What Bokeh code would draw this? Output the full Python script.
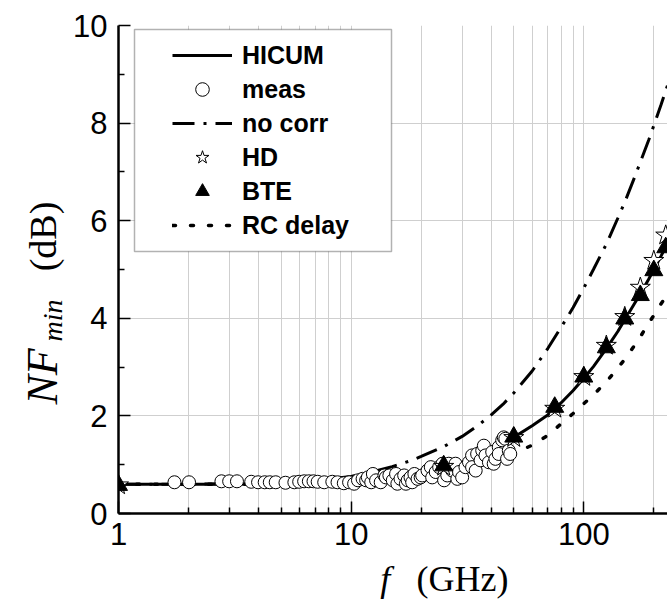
from math import pi
from bokeh.plotting import figure
from bokeh.layouts import row, column
from bokeh.models import (Range1d, FixedTicker, BasicTickFormatter, Legend,
                          LegendItem, BoxAnnotation)
from bokeh.core.properties import value
from bokeh.embed import file_html
from bokeh.resources import INLINE

# ---- data -------------------------------------------------------------
# frequency grid for the model curves (GHz)
model_f = [1, 2, 3, 5, 7, 10, 12, 15, 18, 20, 25, 30, 35, 40, 45, 50, 60, 70,
           80, 90, 100, 110, 125, 140, 150, 165, 175, 190, 200, 215, 230]
# HICUM compact model NFmin (dB)
hicum_nf = [0.60, 0.60, 0.60, 0.61, 0.62, 0.64, 0.67, 0.71, 0.77, 0.81, 0.93,
            1.05, 1.17, 1.30, 1.43, 1.56, 1.80, 2.02, 2.27, 2.52, 2.77, 3.01,
            3.38, 3.73, 3.97, 4.30, 4.50, 4.80, 5.00, 5.28, 5.55]
# without noise correlation
nocorr_nf = [0.60, 0.60, 0.61, 0.63, 0.67, 0.76, 0.84, 0.96, 1.08, 1.17, 1.37,
             1.58, 1.80, 2.02, 2.24, 2.47, 2.92, 3.38, 3.82, 4.22, 4.62, 5.00,
             5.52, 6.05, 6.38, 6.88, 7.20, 7.65, 7.95, 8.38, 8.80]
# RC delay approximation
rc_nf = [0.60, 0.60, 0.60, 0.60, 0.61, 0.62, 0.64, 0.67, 0.71, 0.74, 0.82,
         0.90, 0.98, 1.06, 1.14, 1.23, 1.40, 1.60, 1.84, 2.05, 2.25, 2.43,
         2.70, 2.98, 3.16, 3.44, 3.62, 3.90, 4.06, 4.30, 4.50]

# device simulation points
sim_f = [1, 25, 50, 75, 100, 125, 150, 175, 200, 225]
hd_nf = [0.58, 0.96, 1.55, 2.15, 2.80, 3.44, 4.03, 4.63, 5.18, 5.70]
bte_nf = [0.58, 0.98, 1.57, 2.18, 2.80, 3.40, 3.99, 4.47, 4.98, 5.45]

# measured NFmin
meas_f = [1.74, 2.01, 2.77, 2.99, 3.23, 3.72, 3.98, 4.25, 4.47, 4.74, 5.22,
          5.70, 5.98, 6.28, 6.58, 6.89, 7.18, 7.66, 8.30, 8.74, 9.30, 9.80,
          10.3, 10.7, 11.2, 11.6, 11.8, 12.2, 12.4, 12.8, 13.4, 13.9,
          14.1, 14.6, 15.1, 15.6, 15.8, 16.3, 16.9, 17.2, 17.5, 18.0,
          18.3, 18.7, 19.3, 19.9, 20.2, 21.3, 22.0, 22.3, 23.1, 23.9,
          24.7, 25.1, 25.9, 26.3, 27.2, 28.1, 28.6, 29.1, 30.0, 31.0,
          32.1, 33.1, 33.1, 34.3, 34.8, 36.0, 36.6, 37.2, 37.8, 39.1,
          40.4, 41.0, 41.7, 43.1, 43.1, 44.6, 45.3, 46.0, 46.8, 47.6, 48.3]
meas_nf = [0.64, 0.64, 0.66, 0.66, 0.66, 0.65, 0.64, 0.64, 0.64, 0.64, 0.63,
           0.64, 0.65, 0.66, 0.66, 0.66, 0.65, 0.64, 0.65, 0.64, 0.62, 0.64,
           0.61, 0.68, 0.71, 0.68, 0.74, 0.64, 0.81, 0.68, 0.64, 0.78,
           0.74, 0.78, 0.68, 0.81, 0.61, 0.71, 0.78, 0.61, 0.68, 0.74,
           0.64, 0.81, 0.71, 0.74, 0.78, 0.88, 0.95, 0.74, 0.85, 0.95,
           1.02, 0.68, 0.78, 1.02, 0.88, 1.02, 0.71, 0.85, 0.74, 0.95,
           1.05, 1.19, 0.95, 0.88, 1.22, 1.09, 1.29, 1.39, 1.19, 1.05,
           1.26, 1.02, 1.12, 1.36, 1.22, 1.50, 1.56, 1.53, 1.12, 1.29, 1.22]

x_major = [1, 10, 100]
x_minor = [2, 3, 4, 5, 6, 7, 8, 9, 20, 30, 40, 50, 60, 70, 80, 90, 200]
y_major = [0, 2, 4, 6, 8, 10]
y_minor = [1, 3, 5, 7, 9]

# ---- page geometry (pixels) -------------------------------------------
W, H = 667, 602
TITLE_W = 70          # strip holding the vertical axis title
TITLE_H = 44          # strip holding the horizontal axis title
FRAME_L, FRAME_T, FRAME_B = 116, 25, 513

# ---- main plot --------------------------------------------------------
p = figure(width=W - TITLE_W, height=H - TITLE_H, x_axis_type="log",
           x_range=Range1d(1, 229), y_range=Range1d(0, 10),
           output_backend="svg", toolbar_location=None,
           min_border_left=FRAME_L - TITLE_W, min_border_right=0,
           min_border_top=FRAME_T, min_border_bottom=H - TITLE_H - FRAME_B)
p.outline_line_color = None
p.background_fill_color = "white"

p.xaxis.ticker = FixedTicker(ticks=x_major, minor_ticks=x_minor)
p.xaxis.formatter = BasicTickFormatter()
p.yaxis.ticker = FixedTicker(ticks=y_major, minor_ticks=y_minor)

grid_col = "#cfcfcf"
p.xgrid.grid_line_color = grid_col
p.xgrid.minor_grid_line_color = grid_col
p.ygrid.grid_line_color = grid_col

for ax in (p.xaxis[0], p.yaxis[0]):
    ax.axis_line_width = 2.5
    ax.axis_line_color = "black"
    ax.major_tick_in = 12
    ax.major_tick_out = 0
    ax.minor_tick_in = 6
    ax.minor_tick_out = 0
    ax.major_tick_line_width = 1.5
    ax.minor_tick_line_width = 1.5
    ax.major_tick_line_color = "black"
    ax.minor_tick_line_color = "black"
    ax.major_label_text_font = "Liberation Sans"
    ax.major_label_text_font_size = "31px"
    ax.major_label_text_color = "black"
p.xaxis.major_label_standoff = 9
p.yaxis.major_label_standoff = 11

# curves and symbols
r_hicum = p.line(model_f, hicum_nf, line_color="black", line_width=3)
r_nocorr = p.line(model_f, nocorr_nf, line_color="black", line_width=3,
                  line_dash="22 9 3 9")
r_rc = p.line(model_f, rc_nf, line_color="black", line_width=3.5,
              line_dash="3 15", line_cap="round")
r_meas = p.scatter(meas_f, meas_nf, marker="circle", size=13,
                   fill_color="white", line_color="black", line_width=1)
r_hd = p.scatter(sim_f, hd_nf, marker="star", size=21,
                 fill_color="white", line_color="black", line_width=1)
r_bte = p.scatter(sim_f, bte_nf, marker="triangle", size=18,
                  fill_color="black", line_color="black")

# legend frame (screen units are measured from the frame's lower-left)
box = BoxAnnotation(left=132 - FRAME_L, right=389 - FRAME_L,
                    top=FRAME_B - 29, bottom=FRAME_B - 251,
                    left_units="screen", right_units="screen",
                    top_units="screen", bottom_units="screen",
                    fill_color="white", fill_alpha=1,
                    line_color="black", line_width=1.5)
p.add_layout(box)

LEG_PAD = 9
legend = Legend(items=[
    LegendItem(label="HICUM", renderers=[r_hicum]),
    LegendItem(label="meas", renderers=[r_meas]),
    LegendItem(label="no corr", renderers=[r_nocorr]),
    LegendItem(label="HD", renderers=[r_hd]),
    LegendItem(label="BTE", renderers=[r_bte]),
    LegendItem(label="RC delay", renderers=[r_rc]),
], location=(170 - LEG_PAD - FRAME_L, FRAME_B - 251))
legend.glyph_width = 60
legend.glyph_height = 34
legend.label_height = 34
legend.spacing = 0
legend.padding = LEG_PAD
legend.label_standoff = 10
legend.border_line_alpha = 0
legend.background_fill_alpha = 0
legend.label_text_font = "Liberation Sans"
legend.label_text_font_style = "bold"
legend.label_text_font_size = "25px"
legend.label_text_color = "black"
p.add_layout(legend)


# ---- axis title strips (their data units are page pixels) -------------
def strip(width, height, x0, x1, y0, y1):
    s = figure(width=width, height=height, x_range=Range1d(x0, x1),
               y_range=Range1d(y1, y0), output_backend="svg",
               toolbar_location=None, x_axis_location=None,
               y_axis_location=None, min_border=0)
    s.grid.visible = False
    s.outline_line_color = None
    s.background_fill_color = "white"
    return s


serif = value("Liberation Serif")

ytitle = strip(TITLE_W, H, 0, TITLE_W, 0, H)
ytitle.text(x=[42], y=[376], text=["NF"], text_font=serif,
            text_font_style=value("italic"), text_font_size=value("44px"),
            angle=pi / 2, text_align="center", text_baseline="middle",
            text_color="black")
ytitle.text(x=[67], y=[320], text=["min"], text_font=serif,
            text_font_style=value("italic"), text_font_size=value("28px"),
            angle=pi / 2, text_align="center", text_baseline="bottom",
            text_color="black")
ytitle.text(x=[42], y=[236], text=["(dB)"], text_font=serif,
            text_font_size=value("38px"), angle=pi / 2,
            text_align="center", text_baseline="middle", text_color="black")

xtitle = strip(W - TITLE_W, TITLE_H, TITLE_W, W, H - TITLE_H, H)
xtitle.text(x=[360], y=[578], text=["f"], text_font=serif,
            text_font_style=value("italic"), text_font_size=value("36px"),
            text_align="center", text_baseline="middle", text_color="black")
xtitle.text(x=[444], y=[578], text=["(GHz)"], text_font=serif,
            text_font_size=value("36px"), text_align="center",
            text_baseline="middle", text_color="black")

layout = row(ytitle, column(p, xtitle, spacing=0), spacing=0)
open("out.html", "w").write(file_html(layout, INLINE))
